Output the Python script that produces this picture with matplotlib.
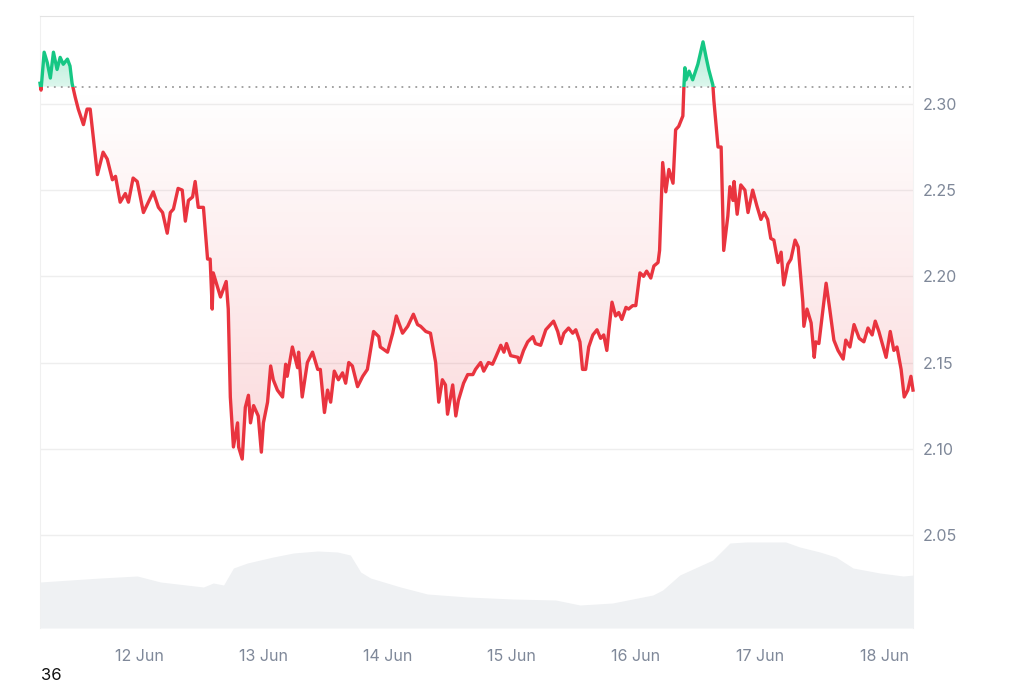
import numpy as np
import pandas as pd
import matplotlib
matplotlib.use("Agg")
import matplotlib.pyplot as plt
import matplotlib.dates as mdates
from matplotlib.path import Path
from matplotlib.patches import Rectangle

plt.rcParams['font.family'] = ['Inter', 'DejaVu Sans']

# price: hours after 11 Jun 00:00, value
price_hours = [4.8, 5.0, 5.6, 6.2, 6.8, 7.4, 8.1, 8.7, 9.3, 10.1, 10.6, 11.0, 11.6, 12.2,
               13.2, 13.9, 14.5, 15.9, 17.0, 17.8, 18.8, 19.4, 20.3, 21.3, 21.9, 22.8, 23.6,
               24.8, 26.7, 27.7, 28.5, 29.4, 30.0, 30.6, 31.5, 32.3, 32.9, 33.5, 34.3, 34.8,
               35.4, 36.4, 37.2, 37.7, 38.1, 38.3, 39.7, 40.8, 41.2, 41.6, 42.2, 43.0, 43.2,
               43.9, 44.5, 45.1, 45.5, 46.1, 47.0, 47.6, 48.0, 48.8, 49.4, 49.9, 50.7, 51.7,
               52.3, 52.6, 53.6, 54.6, 54.8, 55.5, 56.5, 57.5, 58.5, 59.0, 59.8, 60.4, 61.0,
               61.7, 62.5, 63.3, 63.9, 64.5, 65.2, 66.2, 67.2, 68.1, 68.7, 69.3, 70.3, 70.6,
               72.0, 73.0, 73.7, 74.9, 75.9, 77.0, 77.8, 78.4, 79.4, 80.3, 81.3, 81.9, 82.6,
               83.2, 83.6, 84.6, 85.2, 85.7, 86.7, 87.5, 88.5, 89.0, 90.0, 90.6, 91.5, 92.3,
               92.9, 93.9, 94.5, 95.0, 95.8, 97.2, 97.5, 98.3, 99.1, 100.1, 100.6, 101.6,
               102.6, 103.5, 104.1, 104.9, 105.5, 106.1, 107.0, 107.8, 108.4, 109.2, 109.7,
               110.3, 110.9, 111.7, 112.5, 113.2, 113.8, 114.4, 114.8, 115.4, 116.1, 116.7,
               117.3, 118.1, 118.6, 119.4, 120.0, 120.8, 121.5, 122.1, 122.9, 123.5, 124.3,
               124.6, 125.2, 125.8, 126.4, 127.2, 127.7, 128.3, 129.1, 129.3, 129.5, 129.7,
               130.3, 131.0, 132.0, 133.0, 133.6, 134.1, 134.9, 135.1, 135.9, 136.5, 137.0,
               137.8, 138.2, 138.8, 139.0, 139.6, 140.3, 141.1, 141.7, 142.6, 143.4, 144.2,
               144.8, 145.5, 146.1, 146.7, 147.5, 148.1, 148.6, 149.4, 150.0, 150.8, 151.4,
               152.3, 152.5, 153.1, 153.9, 154.5, 154.8, 155.4, 156.8, 157.5, 158.3, 159.1,
               160.1, 160.6, 161.4, 162.2, 163.2, 164.1, 164.9, 165.7, 166.3, 167.0, 168.4,
               169.2, 169.9, 170.5, 171.3, 171.9, 172.6, 173.2, 173.6]
price = [2.312, 2.308, 2.330, 2.324, 2.315, 2.330, 2.320, 2.327, 2.323, 2.326, 2.322, 2.312,
         2.304, 2.297, 2.288, 2.297, 2.297, 2.259, 2.272, 2.268, 2.256, 2.258, 2.243, 2.248,
         2.243, 2.257, 2.255, 2.237, 2.249, 2.240, 2.237, 2.225, 2.237, 2.239, 2.251, 2.250,
         2.232, 2.244, 2.246, 2.255, 2.240, 2.240, 2.210, 2.210, 2.181, 2.202, 2.188, 2.197,
         2.181, 2.130, 2.101, 2.115, 2.101, 2.094, 2.124, 2.131, 2.115, 2.125, 2.119, 2.098,
         2.115, 2.127, 2.148, 2.140, 2.134, 2.130, 2.149, 2.142, 2.159, 2.147, 2.156, 2.130,
         2.150, 2.156, 2.146, 2.146, 2.121, 2.134, 2.127, 2.145, 2.140, 2.144, 2.138, 2.150,
         2.148, 2.136, 2.142, 2.146, 2.157, 2.168, 2.165, 2.159, 2.156, 2.167, 2.177, 2.167,
         2.171, 2.178, 2.172, 2.171, 2.168, 2.167, 2.150, 2.127, 2.140, 2.137, 2.120, 2.137,
         2.119, 2.128, 2.138, 2.143, 2.143, 2.146, 2.150, 2.145, 2.150, 2.149, 2.153, 2.160,
         2.156, 2.161, 2.154, 2.153, 2.150, 2.157, 2.162, 2.165, 2.161, 2.160, 2.169, 2.172,
         2.174, 2.168, 2.161, 2.167, 2.170, 2.167, 2.169, 2.162, 2.146, 2.146, 2.159, 2.166,
         2.169, 2.164, 2.166, 2.157, 2.169, 2.185, 2.177, 2.179, 2.175, 2.182, 2.181, 2.183,
         2.183, 2.202, 2.200, 2.203, 2.199, 2.206, 2.208, 2.215, 2.266, 2.249, 2.262, 2.254,
         2.285, 2.287, 2.293, 2.310, 2.321, 2.314, 2.319, 2.314, 2.323, 2.336, 2.327, 2.320,
         2.311, 2.302, 2.275, 2.275, 2.215, 2.235, 2.252, 2.244, 2.255, 2.236, 2.253, 2.250,
         2.237, 2.250, 2.241, 2.233, 2.237, 2.233, 2.222, 2.221, 2.208, 2.214, 2.195, 2.207,
         2.210, 2.221, 2.217, 2.185, 2.171, 2.181, 2.173, 2.153, 2.162, 2.161, 2.196, 2.181,
         2.163, 2.157, 2.152, 2.163, 2.159, 2.172, 2.164, 2.162, 2.170, 2.166, 2.174, 2.168,
         2.153, 2.168, 2.157, 2.159, 2.146, 2.130, 2.134, 2.142, 2.134]
open_price = 2.310

# volume: hours after 11 Jun 00:00, value (millions)
vol_hours = [4.8, 16.5, 23.6, 28.1, 36.4, 38.3, 40.3, 42.2, 44.9, 49.9, 53.8, 58.5, 62.3,
             64.8, 66.8, 68.7, 74.5, 79.7, 87.5, 96.2, 104.5, 109.2, 115.5, 123.3, 125.2,
             128.5, 134.9, 138.2, 141.3, 149.0, 151.7, 155.6, 158.7, 162.0, 167.2, 171.7, 173.8]
volume = [92, 100, 104, 92, 82, 90, 86, 120, 130, 142, 150, 154, 152, 146, 112, 100, 82, 68,
          62, 58, 56, 46, 50, 66, 76, 106, 136, 170, 172, 172, 162, 152, 142, 120, 110, 104, 106]

y_ticks = [2.05, 2.10, 2.15, 2.20, 2.25, 2.30]
corner_text = "36"

red = '#e9343f'
green = '#16c784'
gray_text = '#7f8899'

start = pd.Timestamp('2024-06-11')
px = mdates.date2num(start + pd.to_timedelta(price_hours, unit='h'))
vx = mdates.date2num(start + pd.to_timedelta(vol_hours, unit='h'))
p = np.array(price)

fig = plt.figure(figsize=(10.24, 6.83), dpi=100)
ax = fig.add_axes([40 / 1024, 55 / 683, 873 / 1024, 612 / 683])
ymin, ymax = 1.996, 2.351
x0, x1 = px[0], px[-1]

# volume on a twin axis
ax2 = ax.twinx()
ax2.fill_between(vx, volume, 0, color='#eff1f3', lw=0)
ax2.set_ylim(0, 1224)
ax2.set_axis_off()

ax.grid(axis='y', color='#eeeeee', lw=1)
ax.set_axisbelow(True)

# gradient fills between line and open price
below = ax.fill_between(px, p, open_price, where=p <= open_price, interpolate=True,
                        color='none', lw=0)
above = ax.fill_between(px, p, open_price, where=p >= open_price, interpolate=True,
                        color='none', lw=0)

n = 256
grad_r = np.zeros((n, 1, 4))
grad_r[..., :3] = matplotlib.colors.to_rgb(red)
grad_r[:, 0, 3] = np.linspace(0.19, 0.0, n)
im_r = ax.imshow(grad_r, extent=[x0, x1, 2.09, open_price], origin='lower',
                 aspect='auto', zorder=1)
im_r.set_clip_path(Path.make_compound_path(*below.get_paths()), ax.transData)

grad_g = np.zeros((n, 1, 4))
grad_g[..., :3] = matplotlib.colors.to_rgb(green)
grad_g[:, 0, 3] = np.linspace(0.15, 0.35, n)
im_g = ax.imshow(grad_g, extent=[x0, x1, open_price, 2.337], origin='lower',
                 aspect='auto', zorder=1)
im_g.set_clip_path(Path.make_compound_path(*above.get_paths()), ax.transData)

ax.axhline(open_price, color='#9c9c9c', lw=1.3, ls=(0, (1, 2.85)), zorder=2)

# line, red below open price and green above
lr, = ax.plot(px, p, color=red, lw=2.4, zorder=3, solid_joinstyle='round')
lr.set_clip_path(Rectangle((x0 - 1, ymin), x1 - x0 + 2, open_price - ymin,
                           transform=ax.transData))
lg, = ax.plot(px, p, color=green, lw=2.4, zorder=3, solid_joinstyle='round')
lg.set_clip_path(Rectangle((x0 - 1, open_price), x1 - x0 + 2, ymax - open_price,
                           transform=ax.transData))

ax.set_xlim(x0, x1)
ax.set_ylim(ymin, ymax)
ax.yaxis.tick_right()
ax.set_yticks(y_ticks)
ax.yaxis.set_major_formatter(matplotlib.ticker.FormatStrFormatter('%.2f'))
ax.xaxis.set_major_locator(mdates.DayLocator())
ax.xaxis.set_major_formatter(mdates.DateFormatter('%d %b'))
ax.tick_params(axis='y', length=0, pad=7, labelsize=11.5, labelcolor=gray_text)
ax.tick_params(axis='x', length=0, pad=15, labelsize=11.5, labelcolor=gray_text)

ax.spines['top'].set_color('#e3e3e3')
ax.spines['left'].set_color('#f0f0f0')
ax.spines['right'].set_color('#f3f3f3')
ax.spines['bottom'].set_visible(False)

fig.text(41 / 1024, 1 - 675 / 683, corner_text, fontsize=12, color='#111111', va='center')

fig.savefig('out.png', dpi=100, facecolor='white')
